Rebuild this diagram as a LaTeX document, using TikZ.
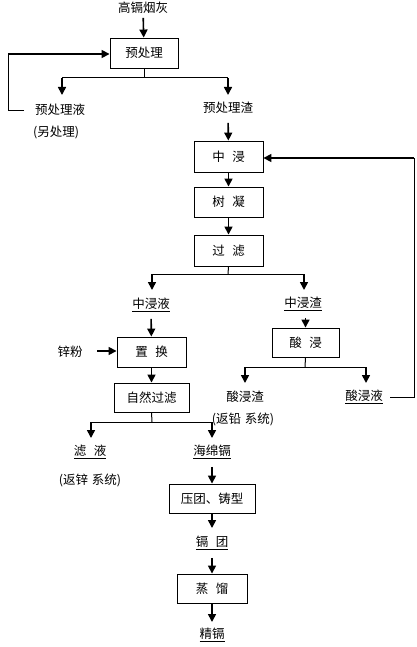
\documentclass[tikz,border=0pt]{standalone}
\usepackage{fontspec}
\newfontfamily\cjk{Noto Sans CJK SC}
\usetikzlibrary{arrows.meta}
\newcommand{\gp}{\hspace{0.6em}}
\begin{document}
\begin{tikzpicture}[x=1pt,y=-1pt,
  every node/.style={font=\cjk\fontsize{12.5}{14}\selectfont, inner sep=0pt},
  box/.style={draw, line width=0.9pt, minimum height=30pt},
  arr/.style={line width=1.6pt, -{Triangle[length=8pt,width=8pt]}},
  thinl/.style={line width=1pt},
  thickl/.style={line width=1.6pt}]
\useasboundingbox (0,0) rectangle (416,647);
% boxes
\node[box, minimum width=68pt] (p1) at (144,53) {预处理};
\node[box, minimum width=69pt, minimum height=31pt] (b1) at (228.5,156.5) {中\gp 浸};
\node[box, minimum width=69pt] (b2) at (228.5,202) {树\gp 凝};
\node[box, minimum width=69pt, minimum height=31pt] (b3) at (228.5,250.5) {过\gp 滤};
\node[box, minimum width=69pt] (b4) at (151.5,352) {置\gp 换};
\node[box, minimum width=75pt, minimum height=29pt] (b5) at (151.5,397.5) {自然过滤};
\node[box, minimum width=67pt, minimum height=29pt] (b6) at (305.5,342.5) {酸\gp 浸};
\node[box, minimum width=86pt, minimum height=29pt] (b7) at (212,498.5) {压团、铸型};
\node[box, minimum width=70pt, minimum height=29pt] (b8) at (212,588.5) {蒸\gp 馏};
% labels
\node (t0) at (143,8) {高镉烟灰};
\node (l1) at (60,110) {预处理液};
\node (l1b) at (56,132) {(另处理)};
\node (l2) at (228,108) {预处理渣};
\node (l3) at (151,305) {\underline{中浸液}};
\node (l4) at (303,304) {\underline{中浸渣}};
\node (zn) at (70,352) {锌粉};
\node (l5) at (90,452) {\underline{滤\gp 液}};
\node (l5b) at (90,480) {(返锌\hspace{0.3em}系统)};
\node (l6) at (212,452) {\underline{海绵镉}};
\node (l7) at (245,397) {酸浸渣};
\node (l7b) at (243,419) {(返铅\hspace{0.3em}系统)};
\node (l8) at (364,397) {\underline{酸浸液}};
\node (l9) at (212,543) {\underline{镉\gp 团}};
\node (l10) at (212,635) {\underline{精镉}};
% coordinates
\coordinate (j1) at (144,78);
\coordinate (a1) at (62,78);
\coordinate (a2) at (228,78);
\coordinate (fb0) at (24,111);
\coordinate (fb1) at (8,111);
\coordinate (fb2) at (8,54);
\coordinate (j2) at (228,274);
\coordinate (a3) at (152,274);
\coordinate (a4) at (304,274);
\coordinate (j3) at (305,367);
\coordinate (a5) at (245,367);
\coordinate (a6) at (366,367);
\coordinate (j4) at (152,422);
\coordinate (a7) at (91,422);
\coordinate (a8) at (212,422);
\coordinate (r0) at (390,397);
\coordinate (r1) at (414,397);
\coordinate (r2) at (414,158);
\coordinate (zs) at (97,351);
% connectors
\draw[arr, shorten <=4pt] (t0) -- (p1);
\draw[thinl] (p1.south) -- (j1);
\draw[thinl] (a1) -- (a2);
\draw[arr] (a1) -- (62,95);
\draw[arr] (a2) -- (228,95);
\draw[thinl] (fb0) -- (fb1) -- (fb2);
\draw[arr] (fb2) -- (p1.west |- fb2);
\draw[arr, shorten <=9pt] (l2) -- (b1);
\draw[arr] (b1) -- (b2);
\draw[arr] (b2) -- (b3);
\draw[thinl] (b3.south) -- (j2);
\draw[thinl] (a3) -- (a4);
\draw[arr] (a3) -- (152,290);
\draw[arr] (a4) -- (304,290);
\draw[arr, shorten <=7pt] (l3) -- (b4);
\draw[arr, shorten <=7pt] (l4.south -| b6.north) -- (b6);
\draw[arr] (zs) -- (b4.west |- zs);
\draw[arr] (b4) -- (b5);
\draw[thinl] (b6.south) -- (j3);
\draw[thinl] (a5) -- (a6);
\draw[arr] (a5) -- (245,383);
\draw[arr] (a6) -- (366,383);
\draw[thinl] (b5.south) -- (j4);
\draw[thinl] (a7) -- (a8);
\draw[arr] (a7) -- (91,438);
\draw[arr] (a8) -- (212,438);
\draw[thinl] (r0) -- (r1) -- (r2);
\draw[thickl] (r2) -- (300,158);
\draw[arr] (300,158) -- (b1.east |- r2);
\draw[arr, shorten <=8pt] (l6) -- (b7);
\draw[arr] (b7) -- (212,528);
\draw[arr, shorten <=8pt] (l9) -- (b8);
\draw[arr] (b8) -- (212,622);
\end{tikzpicture}
\end{document}
